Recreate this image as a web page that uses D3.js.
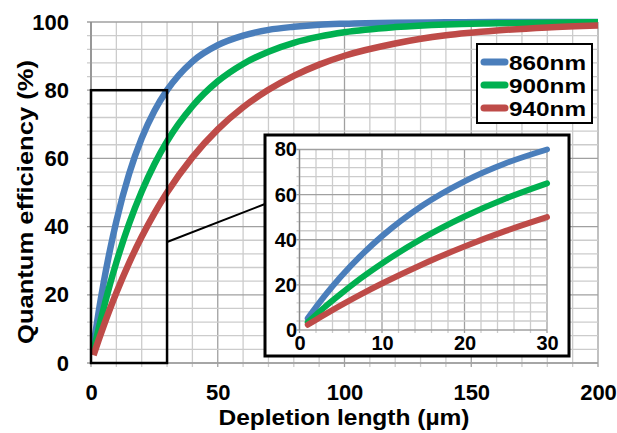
<!DOCTYPE html>
<html>
<head>
<meta charset="utf-8">
<script src="https://cdn.jsdelivr.net/npm/d3@7"></script>
<style>
  body { margin: 0; background: #fff; }
  text { font-family: "Liberation Sans", Arial, sans-serif; font-weight: bold; fill: #000; }
</style>
</head>
<body>
<div id="chart-area"></div>
<script>
// depletion length (um) and quantum efficiency (%)
var depth  = [1, 3, 5, 7.5, 10, 15, 20, 25, 30, 40, 50, 60, 70, 80, 90, 100, 120, 140, 160, 180, 200];
var qe860  = [5.2, 14.9, 23.6, 33.2, 41.6, 55.4, 65.9, 73.9, 80.0, 88.4, 93.2, 96.0, 97.7, 98.6, 99.2, 99.5, 99.8, 99.9, 100, 100, 100];
var qe900  = [3.4, 10.0, 16.0, 23.1, 29.5, 40.8, 50.3, 58.3, 65.0, 75.3, 82.6, 87.7, 91.3, 93.9, 95.7, 97.0, 98.5, 99.3, 99.6, 99.8, 99.9];
var qe940  = [2.3, 6.7, 10.9, 15.9, 20.6, 29.3, 37.0, 43.9, 50.0, 60.3, 68.5, 75.0, 80.1, 84.2, 87.5, 90.1, 93.7, 96.1, 97.5, 98.4, 99.0];
var seriesNames = ["860nm", "900nm", "940nm"];
var colors = ["#4a7ebb", "#00b050", "#be4b48"];
var xTicks = [0, 50, 100, 150, 200];
var yTicks = [0, 20, 40, 60, 80, 100];
var insetXTicks = [0, 10, 20, 30];
var insetYTicks = [0, 20, 40, 60, 80];

var canvasWidth = 617;
var canvasHeight = 433;

var svg = d3.select("#chart-area")
    .append("svg")
        .attr("width", canvasWidth)
        .attr("height", canvasHeight);

var series = [qe860, qe900, qe940].map((vals, i) => ({
    name: seriesNames[i],
    color: colors[i],
    points: depth.map((d, j) => ({ x: d, y: vals[j] }))
}));

// main scales
var x = d3.scaleLinear().domain([0, 200]).range([91, 598]);
var y = d3.scaleLinear().domain([0, 100]).range([363, 22]);

// grid with short outward ticks
function grid(g, xs, ys, xMinor, xMajor, yMinor, yMajor, tick) {
    var xr = xs.range(), yr = ys.range();
    d3.range(xs.domain()[0], xs.domain()[1] + 0.001, xMinor).forEach(v => {
        g.append("line")
            .attr("x1", xs(v)).attr("x2", xs(v))
            .attr("y1", yr[0] + tick).attr("y2", yr[1])
            .attr("stroke", v % xMajor === 0 ? "#a0a0a0" : "#cccccc")
            .attr("stroke-width", 1.3);
    });
    d3.range(ys.domain()[0], ys.domain()[1] + 0.001, yMinor).forEach(v => {
        g.append("line")
            .attr("x1", xr[0] - tick).attr("x2", xr[1])
            .attr("y1", ys(v)).attr("y2", ys(v))
            .attr("stroke", v % yMajor === 0 ? "#a0a0a0" : "#cccccc")
            .attr("stroke-width", 1.3);
    });
}

var mainGrid = svg.append("g");
grid(mainGrid, x, y, 10, 50, 4, 20, 4);
mainGrid.append("line")
    .attr("x1", x(0)).attr("x2", x(0)).attr("y1", y(0)).attr("y2", y(100))
    .attr("stroke", "#888").attr("stroke-width", 1.5);
mainGrid.append("line")
    .attr("x1", x(0)).attr("x2", x(200)).attr("y1", y(0)).attr("y2", y(0))
    .attr("stroke", "#a0a0a0").attr("stroke-width", 1.5);

function styleLabels(sel, size) {
    sel.selectAll("text")
        .attr("font-size", size)
        .attr("font-family", "Liberation Sans, Arial, sans-serif")
        .attr("font-weight", "bold")
        .attr("fill", "#000");
}

var xAxisCall = d3.axisBottom(x).tickValues(xTicks).tickSize(0).tickPadding(0);
svg.append("g")
    .attr("transform", "translate(0,384)")
    .call(xAxisCall)
    .call(g => g.select(".domain").remove())
    .call(g => styleLabels(g, "22px"));

var yAxisCall = d3.axisLeft(y).tickValues(yTicks).tickSize(0).tickPadding(0);
svg.append("g")
    .attr("transform", "translate(69,0)")
    .call(yAxisCall)
    .call(g => g.select(".domain").remove())
    .call(g => styleLabels(g, "22px"));

// axis titles
svg.append("text")
    .attr("x", 344)
    .attr("y", 425)
    .attr("font-size", "22px")
    .attr("text-anchor", "middle")
    .attr("textLength", 251)
    .attr("lengthAdjust", "spacingAndGlyphs")
    .text("Depletion length (\u00b5m)");

svg.append("text")
    .attr("transform", "translate(33,202) rotate(-90)")
    .attr("font-size", "22px")
    .attr("text-anchor", "middle")
    .attr("textLength", 284)
    .attr("lengthAdjust", "spacingAndGlyphs")
    .text("Quantum efficiency (%)");

// main curves
var line = d3.line()
    .x(d => x(d.x))
    .y(d => y(d.y))
    .curve(d3.curveMonotoneX);

svg.append("g").selectAll("path")
    .data(series)
    .enter()
    .append("path")
        .attr("d", d => line(d.points))
        .attr("fill", "none")
        .attr("stroke", d => d.color)
        .attr("stroke-width", 6.5);

// zoom box
svg.append("rect")
    .attr("x", x(0))
    .attr("y", y(80))
    .attr("width", x(30) - x(0))
    .attr("height", y(0) - y(80))
    .attr("fill", "none")
    .attr("stroke", "#000")
    .attr("stroke-width", 2.5);

// connector
svg.append("line")
    .attr("x1", x(30)).attr("y1", 242)
    .attr("x2", 265).attr("y2", 204)
    .attr("stroke", "#000")
    .attr("stroke-width", 2);

// inset
svg.append("rect")
    .attr("x", 265)
    .attr("y", 135)
    .attr("width", 304)
    .attr("height", 221)
    .attr("fill", "#fff")
    .attr("stroke", "#000")
    .attr("stroke-width", 3);

var xi = d3.scaleLinear().domain([0, 30]).range([299.5, 547]);
var yi = d3.scaleLinear().domain([0, 80]).range([330, 149.5]);

var insetGrid = svg.append("g");
grid(insetGrid, xi, yi, 2, 10, 4, 20, 3);
insetGrid.append("line")
    .attr("x1", xi(0)).attr("x2", xi(0)).attr("y1", yi(0)).attr("y2", yi(80))
    .attr("stroke", "#888").attr("stroke-width", 1.3);

var xiAxisCall = d3.axisBottom(xi).tickValues(insetXTicks).tickSize(0).tickPadding(0);
svg.append("g")
    .attr("transform", "translate(0,336)")
    .call(xiAxisCall)
    .call(g => g.select(".domain").remove())
    .call(g => styleLabels(g, "20px"));

var yiAxisCall = d3.axisLeft(yi).tickValues(insetYTicks).tickSize(0).tickPadding(0);
svg.append("g")
    .attr("transform", "translate(297,0)")
    .call(yiAxisCall)
    .call(g => g.select(".domain").remove())
    .call(g => styleLabels(g, "20px"));

var lineInset = d3.line()
    .x(d => xi(d.x))
    .y(d => yi(d.y))
    .curve(d3.curveMonotoneX);

svg.append("g").selectAll("path")
    .data(series)
    .enter()
    .append("path")
        .attr("d", d => lineInset(d.points.filter(p => p.x <= 30)))
        .attr("fill", "none")
        .attr("stroke", d => d.color)
        .attr("stroke-width", 6)
        .attr("stroke-linecap", "round");

// legend
var legend = svg.append("g");
legend.append("rect")
    .attr("x", 477)
    .attr("y", 44)
    .attr("width", 115)
    .attr("height", 79)
    .attr("fill", "#fff")
    .attr("stroke", "#000")
    .attr("stroke-width", 2);

var legendRows = legend.selectAll(".row")
    .data(series)
    .enter()
    .append("g")
        .attr("class", "row")
        .attr("transform", (d, i) => `translate(0,${[62, 85, 108][i]})`);

legendRows.append("line")
    .attr("x1", 484).attr("x2", 505)
    .attr("y1", 0).attr("y2", 0)
    .attr("stroke", d => d.color)
    .attr("stroke-width", 7)
    .attr("stroke-linecap", "round");

legendRows.append("text")
    .attr("x", 509)
    .attr("y", 8)
    .attr("font-size", "21px")
    .attr("textLength", 77)
    .attr("lengthAdjust", "spacingAndGlyphs")
    .text(d => d.name);
</script>
</body>
</html>
